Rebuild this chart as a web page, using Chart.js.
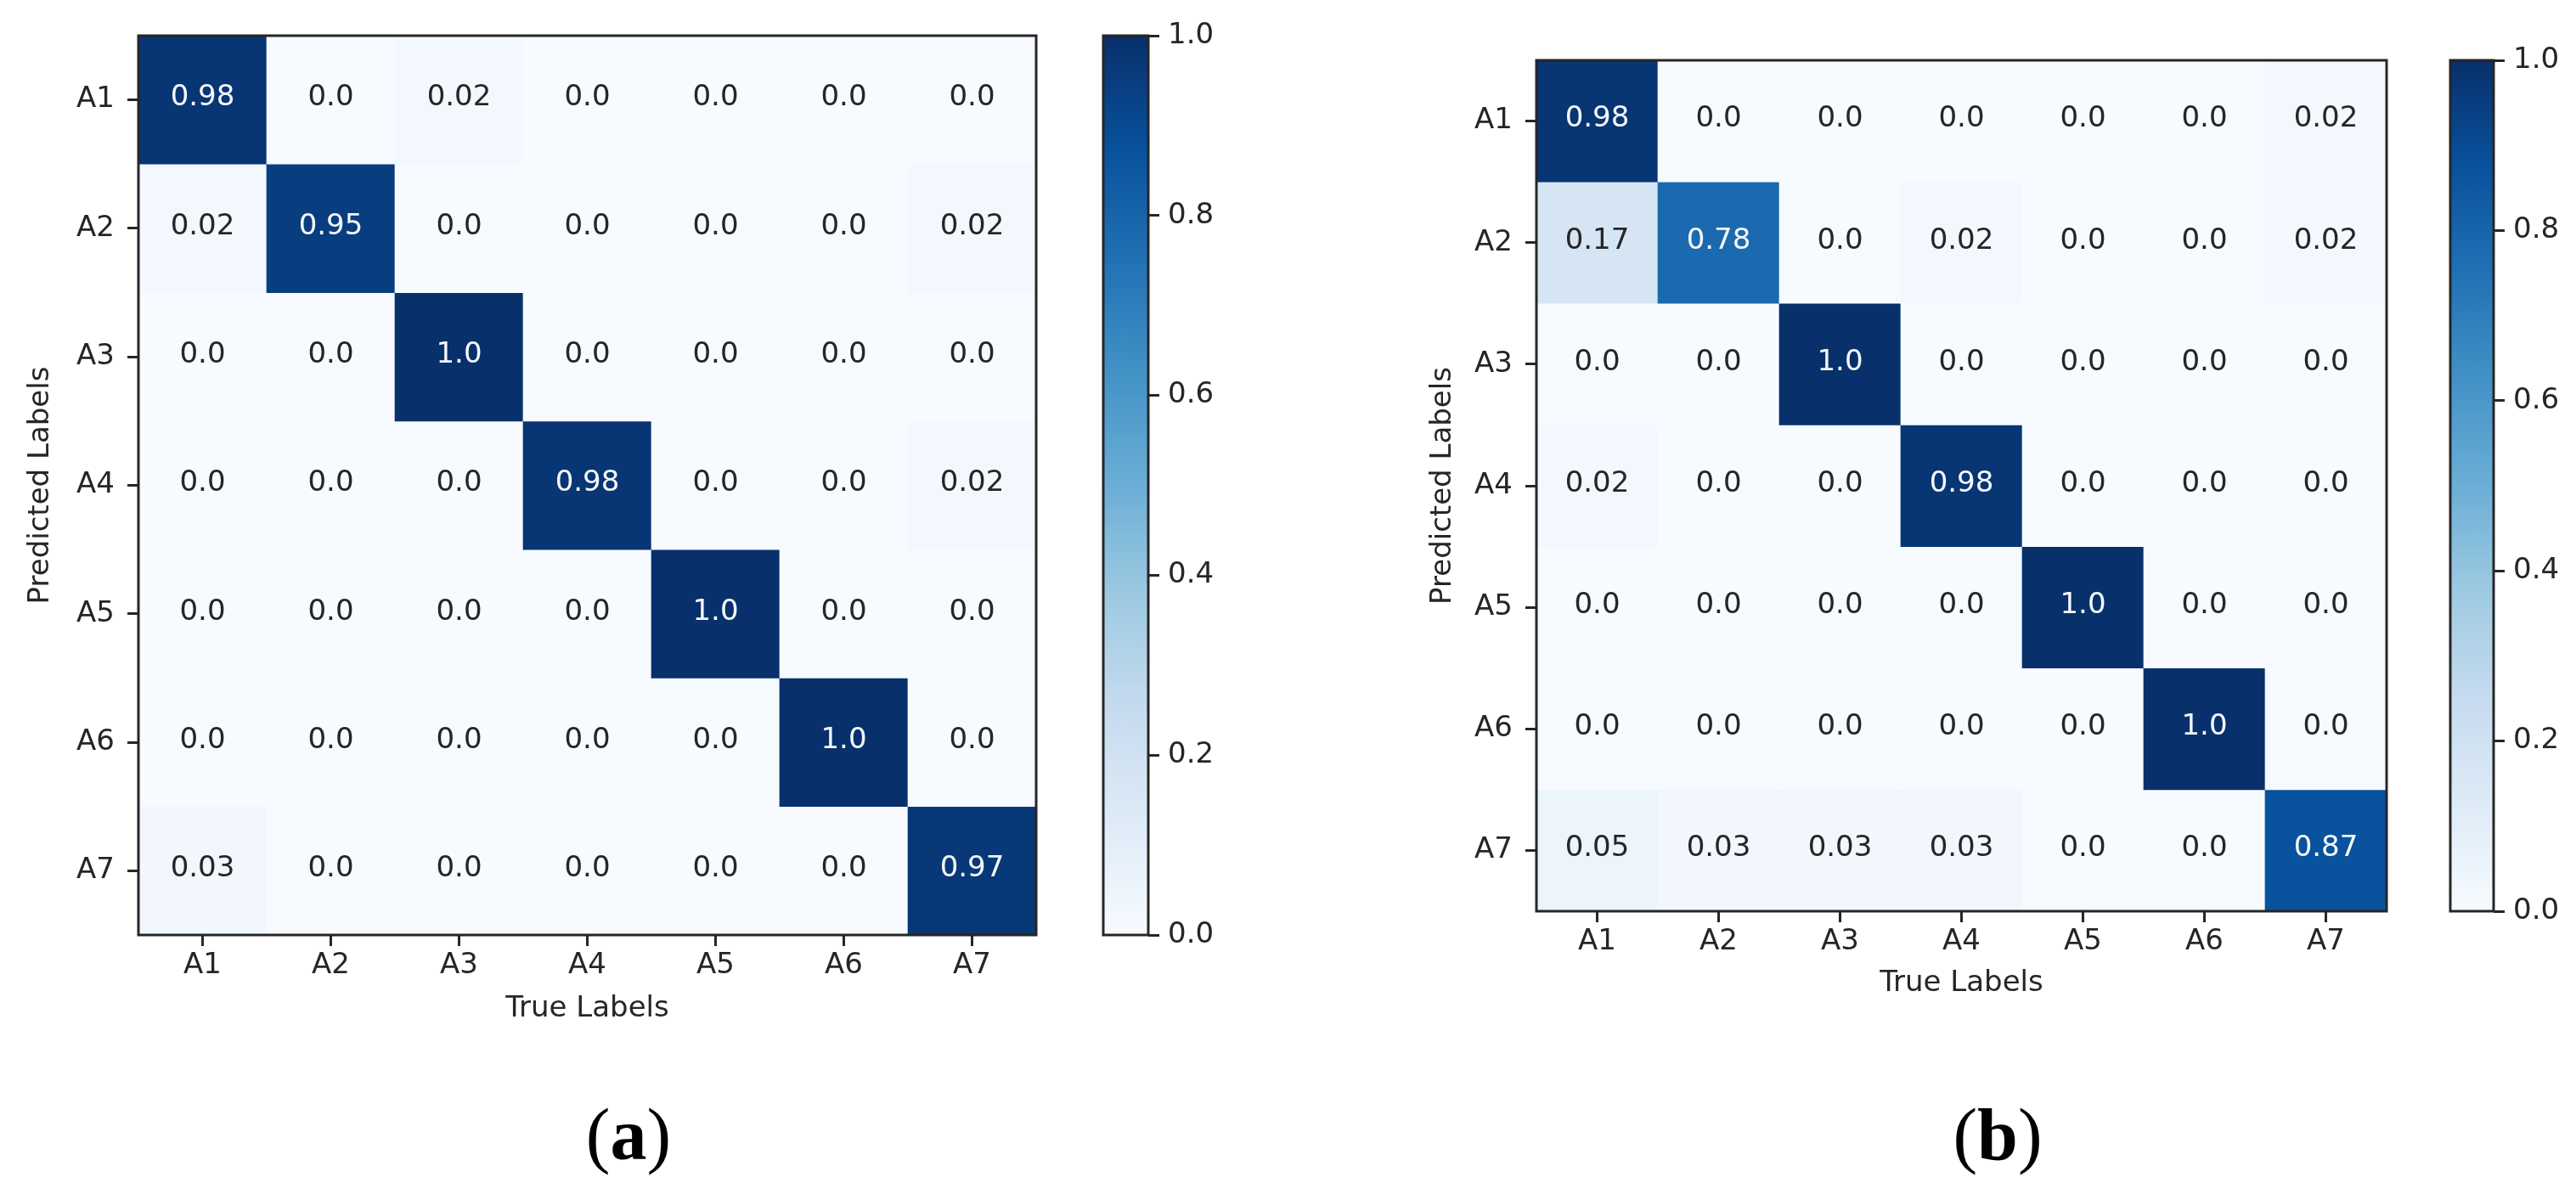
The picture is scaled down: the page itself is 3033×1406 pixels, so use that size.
<!DOCTYPE html>
<html>
<head>
<meta charset="utf-8">
<script src="https://cdn.jsdelivr.net/npm/chart.js@4.4.1/dist/chart.umd.min.js"></script>
<style>
  html, body { margin: 0; padding: 0; background: #fff; }
  body { width: 3033px; height: 1406px; position: relative; overflow: hidden; }
  .box { position: absolute; top: 0; height: 1215px; }
  .cap { position: absolute; top: 1293px; font-family: 'Liberation Serif', 'Times New Roman', serif; font-size: 86px; line-height: 1; transform: translateX(-50%); color: #000; }
</style>
</head>
<body>
<div class="box" style="left:0;width:1240px"><canvas id="heatA"></canvas></div>
<div class="box" style="left:1240px;width:260px"><canvas id="barA"></canvas></div>
<div class="box" style="left:1500px;width:1330px"><canvas id="heatB"></canvas></div>
<div class="box" style="left:2830px;width:203px"><canvas id="barB"></canvas></div>
<div class="cap" style="left:740px">(<b>a</b>)</div>
<div class="cap" style="left:2352px">(<b>b</b>)</div>

<script>
// ----------------------
// Data
// ----------------------
const rowLabels = ['A1', 'A2', 'A3', 'A4', 'A5', 'A6', 'A7'];   // predicted
const colLabels = ['A1', 'A2', 'A3', 'A4', 'A5', 'A6', 'A7'];   // true
const cbTicks = [0, 0.2, 0.4, 0.6, 0.8, 1.0];

const matrixA = [
  [0.98, 0.0, 0.02, 0.0, 0.0, 0.0, 0.0],
  [0.02, 0.95, 0.0, 0.0, 0.0, 0.0, 0.02],
  [0.0, 0.0, 1.0, 0.0, 0.0, 0.0, 0.0],
  [0.0, 0.0, 0.0, 0.98, 0.0, 0.0, 0.02],
  [0.0, 0.0, 0.0, 0.0, 1.0, 0.0, 0.0],
  [0.0, 0.0, 0.0, 0.0, 0.0, 1.0, 0.0],
  [0.03, 0.0, 0.0, 0.0, 0.0, 0.0, 0.97]
];

const matrixB = [
  [0.98, 0.0, 0.0, 0.0, 0.0, 0.0, 0.02],
  [0.17, 0.78, 0.0, 0.02, 0.0, 0.0, 0.02],
  [0.0, 0.0, 1.0, 0.0, 0.0, 0.0, 0.0],
  [0.02, 0.0, 0.0, 0.98, 0.0, 0.0, 0.0],
  [0.0, 0.0, 0.0, 0.0, 1.0, 0.0, 0.0],
  [0.0, 0.0, 0.0, 0.0, 0.0, 1.0, 0.0],
  [0.05, 0.03, 0.03, 0.03, 0.0, 0.0, 0.87]
];

// ----------------------
// Style
// ----------------------
const FONT = "'DejaVu Sans', sans-serif";
const FONT_SIZE = 34;
const INK = '#262626';
const BLUES = ['#f7fbff', '#deebf7', '#c6dbef', '#9ecae1', '#6baed6', '#4292c6', '#2171b5', '#08519c', '#08306b'];

Chart.defaults.font.family = FONT;
Chart.defaults.font.size = FONT_SIZE;
Chart.defaults.color = INK;

function hexRgb(h) {
  return [1, 3, 5].map(i => parseInt(h.slice(i, i + 2), 16));
}

// matplotlib "Blues" colormap, linear between its nine stops
function blues(v) {
  const t = Math.min(1, Math.max(0, v)) * (BLUES.length - 1);
  const i = Math.min(Math.floor(t), BLUES.length - 2);
  const f = t - i;
  const a = hexRgb(BLUES[i]), b = hexRgb(BLUES[i + 1]);
  const c = a.map((x, k) => Math.round(x + (b[k] - x) * f));
  return `rgb(${c[0]},${c[1]},${c[2]})`;
}

// python-like float repr: 1 -> "1.0", 0.02 -> "0.02"
function fmt(v) {
  const s = v.toFixed(2);
  return s.endsWith('0') ? s.slice(0, -1) : s;
}

// ----------------------
// Plugins
// ----------------------
const frame = {
  id: 'frame',
  afterDraw(chart) {
    const { left, top, right, bottom } = chart.chartArea;
    const c = chart.ctx;
    c.save();
    c.strokeStyle = INK;
    c.lineWidth = 3;
    c.strokeRect(left, top, right - left, bottom - top);
    c.restore();
  }
};

const cellText = {
  id: 'cellText',
  afterDatasetsDraw(chart) {
    const c = chart.ctx;
    c.save();
    c.font = `${FONT_SIZE}px ${FONT}`;
    c.textAlign = 'center';
    c.textBaseline = 'middle';
    chart.data.datasets.forEach((ds, i) => {
      chart.getDatasetMeta(i).data.forEach((bar, j) => {
        const v = ds.values[j];
        const { x, y, base } = bar.getProps(['x', 'y', 'base'], true);
        c.fillStyle = v > 0.5 ? '#f3f6fa' : INK;
        c.fillText(fmt(v), x, (y + base) / 2 - 2);
      });
    });
    c.restore();
  }
};

const tickGrid = { drawOnChartArea: false, drawTicks: true, tickLength: 13, tickWidth: 3, lineWidth: 3, tickColor: INK };

// ----------------------
// Heatmap (floating bars, one dataset per predicted row)
// ----------------------
function heatmap(id, matrix, lay) {
  const datasets = matrix.map((row, r) => ({
    label: rowLabels[r],
    data: row.map(() => [r - 0.5, r + 0.5]),
    values: row,
    backgroundColor: row.map(v => blues(v)),
    borderWidth: 0,
    barPercentage: 1,
    categoryPercentage: 1,
    grouped: false
  }));

  return new Chart(document.getElementById(id), {
    type: 'bar',
    data: { labels: colLabels, datasets },
    options: {
      responsive: true,
      maintainAspectRatio: false,
      animation: false,
      layout: { padding: lay.pad },
      plugins: { legend: { display: false }, tooltip: { enabled: false } },
      scales: {
        x: {
          offset: true,
          grid: { ...tickGrid, offset: false },
          border: { display: false },
          ticks: { padding: 3, autoSkip: false, maxRotation: 0 },
          title: { display: true, text: 'True Labels', padding: 0 },
          afterFit: s => { s.height = lay.xH; }
        },
        y: {
          min: -0.5,
          max: rowLabels.length - 0.5,
          reverse: true,
          grid: tickGrid,
          border: { display: false },
          afterBuildTicks: s => { s.ticks = rowLabels.map((_, i) => ({ value: i })); },
          ticks: { padding: 15, autoSkip: false, callback: v => rowLabels[v] },
          title: { display: true, text: 'Predicted Labels', padding: 0 },
          afterFit: s => { s.width = lay.yW; }
        }
      }
    },
    plugins: [cellText, frame]
  });
}

// ----------------------
// Colour bar (one floating bar 0..1 with gradient fill)
// ----------------------
function colorbar(id, lay) {
  return new Chart(document.getElementById(id), {
    type: 'bar',
    data: {
      labels: [''],
      datasets: [{
        data: [[0, 1]],
        borderWidth: 0,
        barPercentage: 1,
        categoryPercentage: 1,
        backgroundColor: ctx => {
          const area = ctx.chart.chartArea;
          if (!area) return BLUES[4];
          const g = ctx.chart.ctx.createLinearGradient(0, area.bottom, 0, area.top);
          BLUES.forEach((c, i) => g.addColorStop(i / (BLUES.length - 1), c));
          return g;
        }
      }]
    },
    options: {
      responsive: true,
      maintainAspectRatio: false,
      animation: false,
      layout: { padding: lay.pad },
      plugins: { legend: { display: false }, tooltip: { enabled: false } },
      scales: {
        x: { display: false, offset: true },
        y: {
          position: 'right',
          min: 0,
          max: 1,
          grid: tickGrid,
          border: { display: false },
          afterBuildTicks: s => { s.ticks = cbTicks.map(v => ({ value: v })); },
          ticks: { padding: 10, callback: v => v.toFixed(1) },
          afterFit: s => { s.width = lay.yW; }
        }
      }
    },
    plugins: [frame]
  });
}

heatmap('heatA', matrixA, { pad: { left: 28, top: 42, right: 20, bottom: 6 }, yW: 135, xH: 108 });
colorbar('barA', { pad: { left: 59, top: 42, right: 48, bottom: 114 }, yW: 100 });
heatmap('heatB', matrixB, { pad: { left: 179, top: 71, right: 20, bottom: 36 }, yW: 130, xH: 106 });
colorbar('barB', { pad: { left: 55, top: 71, right: 7, bottom: 142 }, yW: 90 });
</script>
</body>
</html>
